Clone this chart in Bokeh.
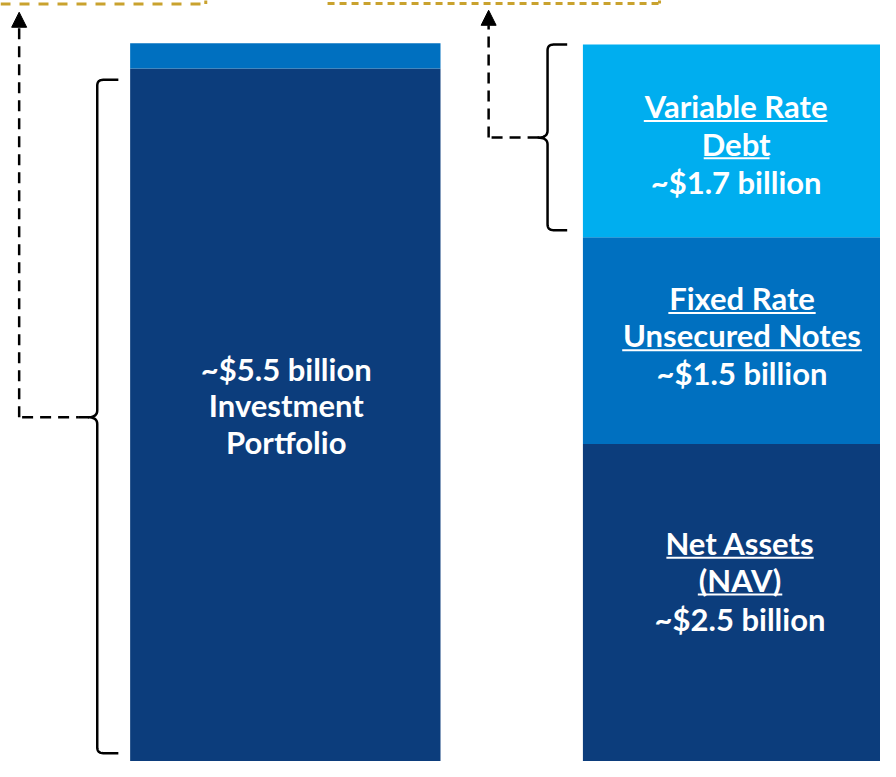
import numpy as np
from bokeh.plotting import figure
from bokeh.models import Range1d, Arrow, NormalHead, ColumnDataSource
from bokeh.core.properties import value
from bokeh.embed import file_html
from bokeh.resources import INLINE

# ---------------- data (billions, as drawn) ----------------
left_segments = ["Investment Portfolio", "Other"]
left_values = [5.5, 0.2]
right_segments = ["Net Assets (NAV)", "Fixed Rate Unsecured Notes", "Variable Rate Debt"]
right_values = [2.52, 1.64, 1.53]

left_colors = ["#0C3D7C", "#0070C0"]
right_colors = ["#0C3D7C", "#0070C0", "#00AEEF"]

left_label = ["~$5.5 billion", "Investment", "Portfolio"]
variable_label = ["Variable Rate", "Debt", "~$1.7 billion"]
fixed_label = ["Fixed Rate", "Unsecured Notes", "~$1.5 billion"]
nav_label = ["Net Assets", "(NAV)", "~$2.5 billion"]

# ---------------- figure ----------------
W, H = 880, 761
p = figure(width=W, height=H, output_backend="svg", toolbar_location=None,
           x_range=Range1d(0, 896), y_range=Range1d(0, 6.04),
           min_border=0, min_border_left=0, min_border_right=0,
           min_border_top=0, min_border_bottom=0)
p.axis.visible = False
p.grid.visible = False
p.outline_line_color = None
p.background_fill_color = "white"
p.border_fill_color = "white"
p.extra_y_ranges = {"px": Range1d(777, 0)}

# ---------------- bars ----------------
def stack(vals):
    tops = list(np.cumsum(vals))
    bottoms = [0.0] + tops[:-1]
    return bottoms, tops

lb, lt = stack(left_values)
rb, rt = stack(right_values)
left_src = ColumnDataSource(dict(x=[290] * len(left_values), bottom=lb, top=lt,
                                 color=left_colors, name=left_segments))
right_src = ColumnDataSource(dict(x=[751] * len(right_values), bottom=rb, top=rt,
                                  color=right_colors, name=right_segments))
p.vbar(x="x", bottom="bottom", top="top", width=316, color="color",
       line_color=None, source=left_src)
p.vbar(x="x", bottom="bottom", top="top", width=316, color="color",
       line_color=None, source=right_src)

# ---------------- labels ----------------
FONT = value("Lato")
FS = "31px"
SHIFT = -12

def label(lines, cx, baselines, underline=None):
    p.text(x=[cx] * len(lines), y=[b + SHIFT for b in baselines], text=lines,
           text_font=FONT, text_font_size=FS, text_font_style="bold",
           text_color="white", text_align="center", text_baseline="alphabetic",
           y_range_name="px")
    if underline:
        for (y, w, c) in underline:
            p.line([c - w / 2, c + w / 2], [y, y], line_color="white",
                   line_width=2, y_range_name="px")

label(left_label, 291, [388, 425.5, 463])
label(variable_label, 749, [120, 158.5, 197],
      underline=[(123, 187, 748.5), (161, 67, 749.5)])
label(fixed_label, 755, [315.5, 354, 392],
      underline=[(319, 150, 755), (357, 244, 755)])
label(nav_label, 753, [566, 604, 643],
      underline=[(569, 150, 753), (606.5, 86, 753)])

# ---------------- braces ----------------
def qbez(p0, c, p1, n=10):
    t = np.linspace(0, 1, n)
    x = (1 - t) ** 2 * p0[0] + 2 * (1 - t) * t * c[0] + t ** 2 * p1[0]
    y = (1 - t) ** 2 * p0[1] + 2 * (1 - t) * t * c[1] + t ** 2 * p1[1]
    return list(x), list(y)

def brace(xv, ytop, ybot, ytip, xend, xtip, r=6):
    xs, ys = [xend], [ytop]
    bx, by = qbez((xv + r, ytop), (xv, ytop), (xv, ytop + r))
    xs += bx; ys += by
    bx, by = qbez((xv, ytip - 7), (xv, ytip), (xtip, ytip))
    xs += bx; ys += by
    bx, by = qbez((xtip, ytip), (xv, ytip), (xv, ytip + 7))
    xs += bx; ys += by
    bx, by = qbez((xv, ybot - r), (xv, ybot), (xv + r, ybot))
    xs += bx; ys += by
    xs.append(xend); ys.append(ybot)
    p.line(xs, ys, line_color="black", line_width=2.5, y_range_name="px")

brace(98.5, 81, 768.5, 425.5, 120, 89)
brace(557, 45, 234.5, 140, 577, 547)

# ---------------- dashed connectors with arrows ----------------
def connector(x_up, y_h, x_solid0, x_solid1, y_tip):
    p.line([x_up + 3, x_solid0], [y_h, y_h], line_color="black", line_width=2.5,
           line_dash="11 7", y_range_name="px")
    p.line([x_solid0, x_solid1], [y_h, y_h], line_color="black", line_width=2.5,
           y_range_name="px")
    p.add_layout(Arrow(x_start=x_up, y_start=y_h, x_end=x_up, y_end=y_tip,
                       line_color="black", line_width=2.5, line_dash="11 7",
                       end=NormalHead(size=15, line_color="black", fill_color="black",
                                      line_width=1),
                       y_range_name="px"))

connector(19, 425.5, 79, 90, 12)
connector(497, 140, 537, 548, 10)

# ---------------- golden dashed lines at top ----------------
GOLD = "#C9A22E"
p.line([0, 209], [3.5, 3.5], line_color=GOLD, line_width=3, line_dash="10 9",
       y_range_name="px")
p.line([209, 209], [3.5, -2], line_color=GOLD, line_width=3, y_range_name="px")
p.line([333, 670], [3, 3], line_color=GOLD, line_width=3, line_dash="7 5",
       y_range_name="px")
p.line([671, 671], [3, -2], line_color=GOLD, line_width=3, y_range_name="px")

open("out.html", "w").write(file_html(p, INLINE))
